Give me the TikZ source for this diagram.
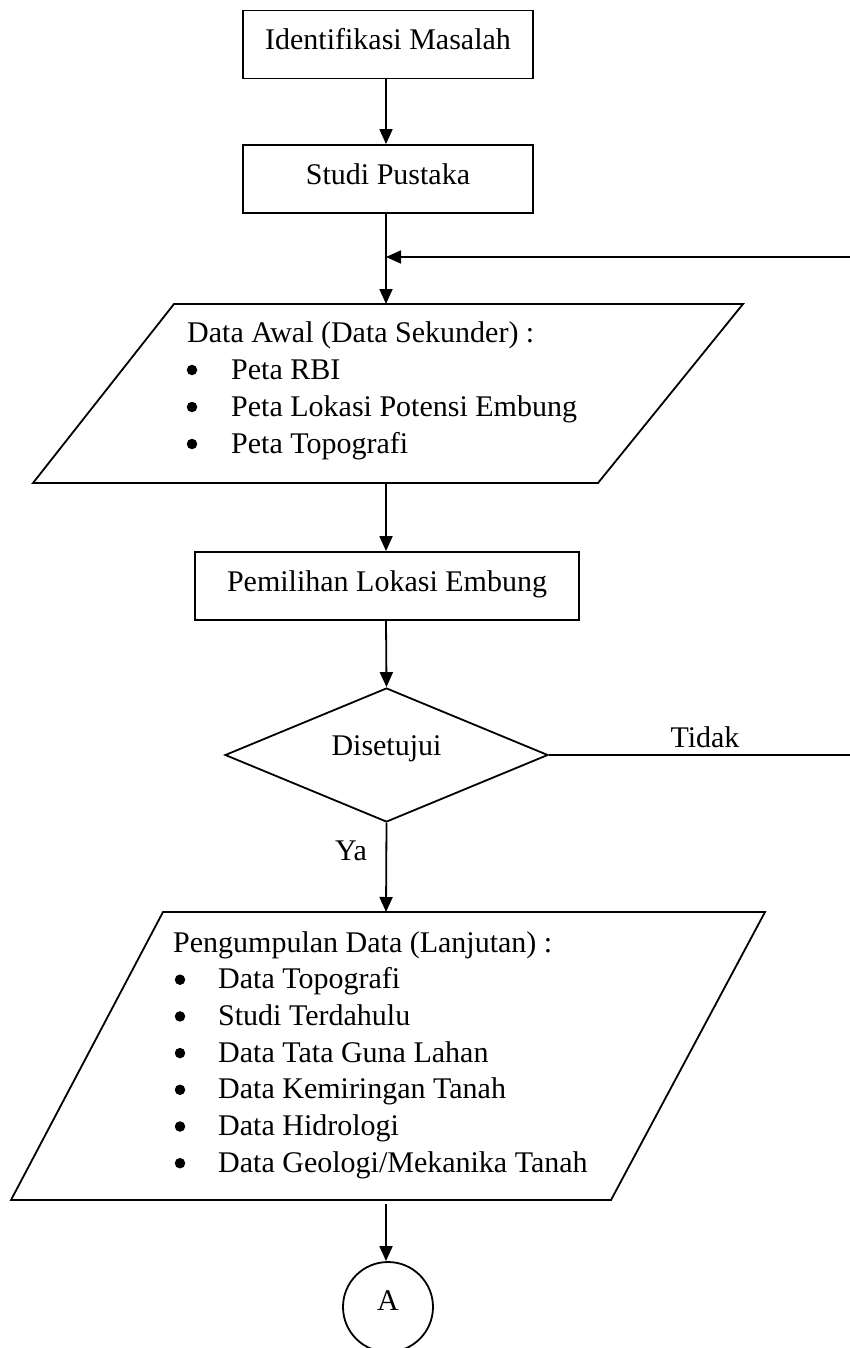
\documentclass[tikz,border=0pt]{standalone}
\usepackage{fontspec}
\setmainfont{Liberation Serif}
\usetikzlibrary{arrows.meta,shapes.geometric}
\begin{document}
\begin{tikzpicture}[x=1pt,y=-1pt,
  every node/.style={font=\fontsize{30}{36}\selectfont, inner sep=0pt},
  line/.style={line width=1.8pt, draw=black},
  arr/.style={line width=1.8pt, -{Triangle[length=15pt,width=13pt]}},
  procbox/.style={draw, line width=1.8pt, minimum width=290pt, minimum height=68pt, text height=21pt, text depth=10pt},
  txt/.style={anchor=base west},
  bul/.style={anchor=base},
  dot/.style={circle, fill=black, minimum size=10.5pt, inner sep=0pt}
]
\useasboundingbox (0,0) rectangle (850,1348);

% process boxes
\node[procbox] (b1) at (388,44.5) {Identifikasi Masalah};
\node[procbox] (b2) at (388,179) {Studi Pustaka};
\node[procbox, minimum width=384pt] (b3) at (387,586) {Pemilihan Lokasi Embung};

% parallelogram 1
\coordinate (p1tl) at (174,304);
\coordinate (p1tr) at (743,304);
\coordinate (p1br) at (598,483);
\coordinate (p1bl) at (33,483);
\draw[line] (p1tl) -- (p1tr) -- (p1br) -- (p1bl) -- cycle;
\coordinate (p1t) at (386,304);
\coordinate (p1b) at (386,483);
\node[txt] (p1h) at (187,342) {Data Awal (Data Sekunder) :};
\foreach \t [count=\i] in {Peta RBI, Peta Lokasi Potensi Embung, Peta Topografi}{
  \node[dot] (p1d\i) at (192,333+37*\i) {};
  \node[txt] (p1i\i) at (231,342+37*\i) {\t};
}

% decision
\node[draw, diamond, line width=1.8pt, minimum width=323pt, minimum height=134pt, text height=10pt, text depth=10pt] (d) at (386.5,755) {Disetujui};

% parallelogram 2
\coordinate (p2tl) at (163,912);
\coordinate (p2tr) at (765,912);
\coordinate (p2br) at (611,1200);
\coordinate (p2bl) at (11,1200);
\draw[line] (p2tl) -- (p2tr) -- (p2br) -- (p2bl) -- cycle;
\coordinate (p2t) at (386,912);
\coordinate (p2b) at (386,1204);
\node[txt] (p2h) at (173,952) {Pengumpulan Data (Lanjutan) :};
\foreach \t [count=\i] in {Data Topografi, Studi Terdahulu, Data Tata Guna Lahan, Data Kemiringan Tanah, Data Hidrologi, Data Geologi/Mekanika Tanah}{
  \node[dot] (p2d\i) at (180,943+36.7*\i) {};
  \node[txt] (p2i\i) at (218,952+36.7*\i) {\t};
}

% connector circle
\node[draw, circle, line width=1.8pt, minimum size=90pt, text height=13pt, text depth=7pt] (A) at (388,1307) {A};

% right edge coordinates
\coordinate (fbR) at (850,257);
\coordinate (fbL) at (386,257);
\coordinate (tdR) at (850,755);

% connectors
\draw[arr] (b1.south -| 386,0) -- (b2.north -| 386,0);
\draw[arr] (b2.south -| 386,0) -- (p1t);
\draw[arr] (fbR) -- (fbL);
\draw[arr] (p1b) -- (b3.north -| 386,0);
\draw[arr] (b3.south -| 386,0) -- (d.north);
\draw[line] (d.east) -- (tdR);
\draw[arr] (d.south) -- (p2t);
\draw[arr] (p2b) -- (A.north -| 386,0);

% labels
\node[bul] (tidak) at (705,747) {Tidak};
\node[bul] (ya) at (351,860) {Ya};
\end{tikzpicture}
\end{document}
